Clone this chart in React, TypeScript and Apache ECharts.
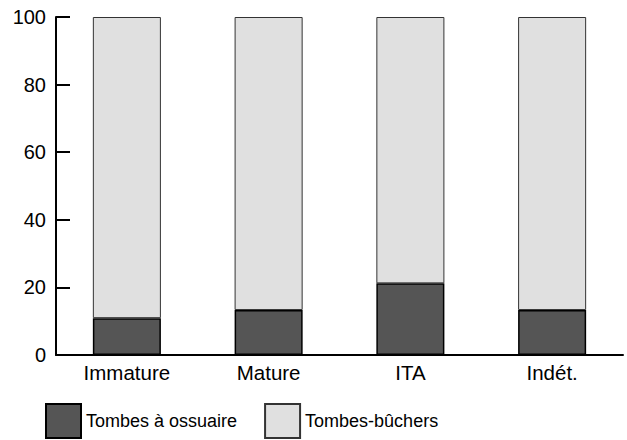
import React, { useEffect, useRef } from "react";
import * as echarts from "echarts";

const categories = ["Immature", "Mature", "ITA", "Indét."];
const ossuaire = [10.9, 13.3, 21.2, 13.3];
const buchers = ossuaire.map((v) => 100 - v);
const yTicks = [0, 20, 40, 60, 80, 100];

export default function App() {
  const ref = useRef<HTMLDivElement>(null);
  useEffect(() => {
    const chart = echarts.init(ref.current!, null, { renderer: "svg" });
    const font = "Liberation Sans, Arial, sans-serif";
    chart.setOption({
      animation: false,
      backgroundColor: "#fff",
      textStyle: { fontFamily: font },
      grid: { left: 56, right: 4, top: 17, bottom: 85, containLabel: false },
      legend: {
        left: 45,
        top: 403,
        padding: 0,
        itemWidth: 35,
        itemHeight: 34,
        itemGap: 27,
        icon: "rect",
        textStyle: { fontSize: 18, color: "#000", fontFamily: font },
        data: ["Tombes à ossuaire", "Tombes-bûchers"],
      },
      xAxis: {
        type: "category",
        data: categories,
        axisLine: { lineStyle: { color: "#000", width: 2 } },
        axisTick: { inside: true, length: 8, lineStyle: { color: "#000", width: 2 } },
        axisLabel: { fontSize: 20.5, color: "#000", margin: 7, fontFamily: font },
      },
      yAxis: {
        type: "value",
        min: yTicks[0],
        max: yTicks[yTicks.length - 1],
        interval: 20,
        splitLine: { show: false },
        axisLine: { show: true, lineStyle: { color: "#000", width: 2 } },
        axisTick: { show: true, inside: true, length: 14, lineStyle: { color: "#000", width: 2 } },
        axisLabel: { fontSize: 20, color: "#000", margin: 10, fontFamily: font },
      },
      series: [
        {
          name: "Tombes à ossuaire",
          type: "bar",
          stack: "s",
          data: ossuaire,
          barWidth: "48%",
          itemStyle: { color: "#555555", borderColor: "#000", borderWidth: 1.5 },
        },
        {
          name: "Tombes-bûchers",
          type: "bar",
          stack: "s",
          data: buchers,
          barWidth: "48%",
          itemStyle: { color: "#e0e0e0", borderColor: "#333", borderWidth: 1 },
        },
      ],
    });
    return () => chart.dispose();
  }, []);
  return (
    <div
      ref={ref}
      style={{ position: "fixed", left: 0, top: 0, width: 627, height: 440 }}
    />
  );
}
